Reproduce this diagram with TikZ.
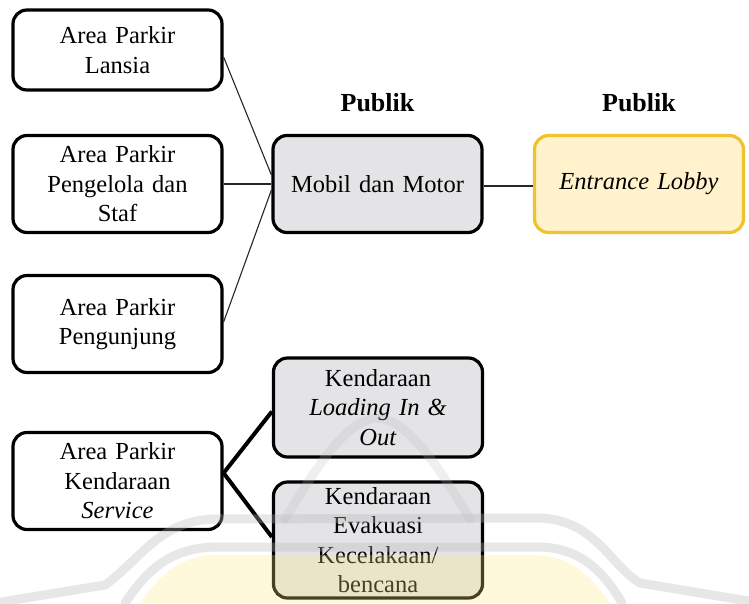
\documentclass[tikz,border=0pt]{standalone}
\usepackage{fontspec}
\setmainfont{Liberation Serif}
\usetikzlibrary{calc}

\definecolor{boxgray}{RGB}{228,228,230}
\definecolor{lobbyfill}{RGB}{255,242,204}
\definecolor{lobbyedge}{RGB}{242,193,46}
\definecolor{markgray}{RGB}{185,185,185}
\definecolor{markyellow}{RGB}{248,234,125}

\begin{document}
\begin{tikzpicture}[x=1pt,y=-1pt,
  area/.style={draw=black, line width=3.2pt, rounded corners=14pt, fill=white,
    minimum width=209pt, text width=200pt, align=center, inner sep=0pt,
    font=\fontsize{24.5}{29.5}\selectfont},
  hub/.style={area, fill=boxgray},
  lobby/.style={area, draw=lobbyedge, fill=lobbyfill},
  zone/.style={font=\fontsize{26}{30}\selectfont\bfseries},
  thinlink/.style={draw=black!85, line width=1.1pt},
  thicklink/.style={draw=black, line width=4pt},
  band/.style={draw=markgray, line width=9pt, opacity=0.33, line cap=round}
]
\useasboundingbox (0,0) rectangle (749,603);
\fill[white] (0,0) rectangle (749,603);

% parking areas (left column)
\node[area, minimum height=80pt] (lansia) at (117.5,50) {Area Parkir\\Lansia};
\node[area, minimum height=97pt] (staf) at (117.5,184) {Area Parkir\\Pengelola dan\\Staf};
\node[area, minimum height=97pt] (pengunjung) at (117.5,324) {Area Parkir\\Pengunjung};
\node[area, minimum height=97pt] (service) at (117.5,481) {Area Parkir\\Kendaraan\\\textit{Service}};

% public circulation
\node[hub, minimum height=97pt] (mobil) at (377.5,184) {Mobil dan Motor};
\node[lobby, minimum height=97pt] (lobbybox) at (639,184) {\textit{Entrance Lobby}};
\node[zone] (publik1) at (377.5,103) {Publik};
\node[zone] (publik2) at (639,103) {Publik};

% service vehicles
\node[hub, minimum height=99pt] (loading) at (378,407.5) {Kendaraan\\\textit{Loading In \&}\\\textit{Out}};
\node[hub, minimum height=116pt] (evakuasi) at (378,540) {Kendaraan\\Evakuasi\\Kecelakaan/\\bencana};

% connectors
\draw[thinlink] ([yshift=-7pt]lansia.east) -- ([yshift=9pt]mobil.west);
\draw[thinlink] (staf.east) -- (mobil.west);
\draw[thinlink] ([yshift=2pt]pengunjung.east) -- ([yshift=-6pt]mobil.west);
\draw[thinlink] ([yshift=-2pt]mobil.east) -- ([yshift=-2pt]lobbybox.west);
\draw[thicklink] ([yshift=8pt]service.east) -- ([yshift=-4pt]loading.west);
\draw[thicklink] ([yshift=8pt]service.east) -- ([yshift=3pt]evakuasi.west);

% faint emblem in the lower part of the page
\fill[markyellow, opacity=0.28]
  (140,603) .. controls (160,575) and (180,556) .. (215,555)
  -- (535,555) .. controls (570,556) and (590,575) .. (610,603) -- cycle;
\draw[band] (-5,603) -- (105,585) .. controls (140,560) and (160,520) .. (215,519)
  -- (540,518) .. controls (595,520) and (610,565) .. (640,583) -- (760,603);
\draw[band] (125,603) .. controls (150,565) and (175,548) .. (215,547)
  -- (540,547) .. controls (575,548) and (600,565) .. (622,603);
\draw[band, opacity=0.22] (285,519) .. controls (315,470) and (345,420) .. (377,418)
  .. controls (410,420) and (440,470) .. (470,519);
\end{tikzpicture}
\end{document}
